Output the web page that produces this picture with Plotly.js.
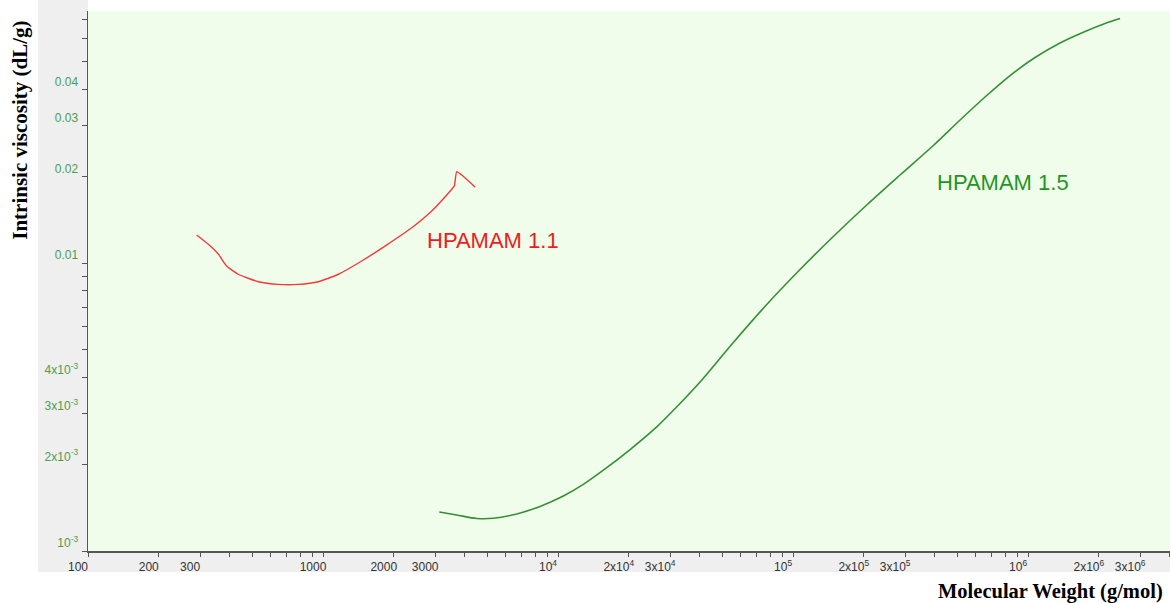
<!DOCTYPE html>
<html>
<head>
<meta charset="utf-8">
<script src="https://cdn.plot.ly/plotly-3.0.1.min.js"></script>
<style>html,body{margin:0;padding:0;background:#fff;}#chart{width:1170px;height:603px;}</style>
</head>
<body>
<div id="chart"></div>
<script>
// HPAMAM 1.1 (red)
const mw11 = [290, 325, 359, 389, 436, 531, 645, 785, 955, 1162, 1461, 1835, 2385, 2901, 3530, 3621, 3706, 3892, 4436];
const iv11 = [0.01251, 0.01161, 0.01072, 0.00976, 0.00914, 0.00861, 0.00843, 0.00843, 0.00861, 0.00914, 0.01016, 0.01145, 0.01326, 0.01516, 0.01804, 0.01851, 0.02075, 0.02021, 0.01836];

// HPAMAM 1.5 (green)
const mw15 = [3125, 3705, 4508, 5305, 6673, 8384, 10534, 12815, 16114, 20251, 26303, 34148, 40206, 55716, 77270, 107100, 148400, 205800, 285300, 395400, 513600, 656200, 838400, 1071000, 1368000, 1748000, 2126000, 2463000];
const iv15 = [0.001366, 0.001334, 0.001297, 0.001299, 0.001345, 0.001428, 0.001552, 0.001703, 0.001946, 0.002251, 0.002699, 0.003345, 0.003862, 0.005297, 0.007176, 0.009494, 0.01236, 0.01590, 0.02021, 0.02559, 0.03137, 0.03771, 0.04477, 0.05169, 0.05806, 0.06366, 0.06786, 0.07063];

// tick labels
const xTickVals = [100,200,300,400,500,600,700,800,900,1000,2000,3000,4000,5000,6000,7000,8000,9000,1e4,2e4,3e4,4e4,5e4,6e4,7e4,8e4,9e4,1e5,2e5,3e5,4e5,5e5,6e5,7e5,8e5,9e5,1e6,2e6,3e6,4e6];
const xTickText = ['100','200','300','','','','','','','1000','2000','3000','','','','','','','10<sup>4</sup>','2x10<sup>4</sup>','3x10<sup>4</sup>','','','','','','','10<sup>5</sup>','2x10<sup>5</sup>','3x10<sup>5</sup>','','','','','','','10<sup>6</sup>','2x10<sup>6</sup>','3x10<sup>6</sup>',''];
const yTickVals = [0.001,0.002,0.003,0.004,0.005,0.006,0.007,0.008,0.009,0.01,0.02,0.03,0.04,0.05,0.06,0.07];
const yTickText = ['10<sup>-3</sup>','2x10<sup>-3</sup>','3x10<sup>-3</sup>','4x10<sup>-3</sup>','','','','','','0.01','0.02','0.03','0.04','','',''];

const seriesNames = ['HPAMAM 1.1', 'HPAMAM 1.5'];

const traces = [
  {x: mw11, y: iv11, type: 'scatter', mode: 'lines', name: seriesNames[0],
   line: {color: '#f23a3a', width: 1.4, shape: 'spline', smoothing: 0.5}},
  {x: mw15, y: iv15, type: 'scatter', mode: 'lines', name: seriesNames[1],
   line: {color: '#358f35', width: 1.6, shape: 'spline', smoothing: 0.8}}
];

const layout = {
  width: 1170, height: 603,
  margin: {l: 88, r: 0, t: 11, b: 52, pad: 0},
  paper_bgcolor: '#ffffff',
  plot_bgcolor: '#f0fdeb',
  showlegend: false,
  font: {family: 'Liberation Sans, Arial, sans-serif', size: 12, color: '#333'},
  xaxis: {
    type: 'log', range: [2, 6.604], autorange: false,
    tickmode: 'array', tickvals: xTickVals, ticktext: xTickText,
    ticks: 'outside', ticklen: 4, tickwidth: 1, tickcolor: '#555',
    showline: true, linecolor: '#555', linewidth: 1.5,
    showgrid: false, zeroline: false,
    tickfont: {family: 'Liberation Sans, Arial, sans-serif', size: 12, color: '#333'},
    ticklabelshift: -10
  },
  yaxis: {
    type: 'log', range: [-3, -1.125], autorange: false,
    tickmode: 'array', tickvals: yTickVals, ticktext: yTickText,
    ticks: 'outside', ticklen: 5, tickwidth: 1, tickcolor: '#555',
    showline: true, linecolor: '#555', linewidth: 1.5,
    showgrid: false, zeroline: false,
    tickfont: {family: 'Liberation Sans, Arial, sans-serif', size: 12, color: '#4e9c4e'},
    ticklabelshift: -8, ticklabelstandoff: 1
  },
  shapes: [
    {type: 'rect', xref: 'paper', yref: 'paper', x0: -0.0462, x1: 0, y0: -0.0389, y1: 1.0204,
     fillcolor: '#efefef', line: {width: 0}, layer: 'below'},
    {type: 'rect', xref: 'paper', yref: 'paper', x0: -0.0462, x1: 1, y0: -0.0389, y1: 0,
     fillcolor: '#efefef', line: {width: 0}, layer: 'below'}
  ],
  annotations: [
    {text: '<b>Intrinsic viscosity (dL/g)</b>', xref: 'paper', yref: 'paper',
     x: -0.0629, y: 0.78, xanchor: 'center', yanchor: 'middle', textangle: -90, showarrow: false,
     font: {family: 'Liberation Serif, Times New Roman, serif', size: 21, color: '#000'}},
    {text: '<b>Molecular Weight (g/mol)</b>', xref: 'paper', yref: 'paper',
     x: 0.9955, y: -0.0759, xanchor: 'right', yanchor: 'middle', showarrow: false,
     font: {family: 'Liberation Serif, Times New Roman, serif', size: 20.5, color: '#000'}},
    {text: seriesNames[0], xref: 'paper', yref: 'paper', x: 0.3115, y: 0.5759,
     xanchor: 'left', yanchor: 'middle', showarrow: false,
     font: {family: 'Liberation Sans, Arial, sans-serif', size: 22, color: '#ee1c1c'}},
    {text: seriesNames[1], xref: 'paper', yref: 'paper', x: 0.7829, y: 0.6815,
     xanchor: 'left', yanchor: 'middle', showarrow: false,
     font: {family: 'Liberation Sans, Arial, sans-serif', size: 22, color: '#1f961f'}}
  ]
};

Plotly.newPlot('chart', traces, layout, {displayModeBar: false, staticPlot: true});
</script>
</body>
</html>
